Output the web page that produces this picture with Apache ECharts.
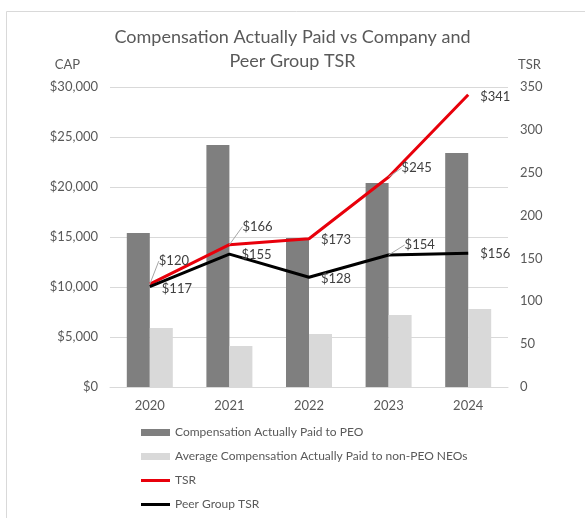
<!DOCTYPE html>
<html>
<head>
<meta charset="utf-8">
<script src="https://cdn.jsdelivr.net/npm/echarts@6/dist/echarts.min.js"></script>
<style>html,body{margin:0;padding:0;background:#fff;}#c{width:585px;height:518px;}</style>
</head>
<body>
<div id="c"></div>
<script>
const categories = ['2020', '2021', '2022', '2023', '2024'];
const peoCap = [15400, 24200, 14900, 20400, 23400];
const neoCap = [5900, 4100, 5300, 7200, 7800];
const tsr = [120, 166, 173, 245, 341];
const peerTsr = [117, 155, 128, 154, 156];
const capTicks = [0, 5000, 10000, 15000, 20000, 25000, 30000];
const tsrTicks = [0, 50, 100, 150, 200, 250, 300, 350];

const FONT = 'Lato';
const TXT = '#595959';

// label placement per point (not data): [dx, dy] of label's left-middle from the point
const tsrLab = [
  {pos: [9, -23], guide: true},
  {pos: [13, -18], guide: true},
  {pos: [12, 1]},
  {pos: [13, -9], guide: true},
  {pos: [12, 2]}
];
const peerLab = [
  {pos: [12, 2]},
  {pos: [12, 1]},
  {pos: [12, 2]},
  {pos: [16, -10], guide: true},
  {pos: [12, 1]}
];

function lineData(vals, labs) {
  return vals.map((v, i) => ({
    value: v,
    label: {position: labs[i].pos, align: 'left', verticalAlign: 'middle'},
    labelLine: {show: !!labs[i].guide}
  }));
}

const LINE_ICON = 'path://M0,0L29,0L29,3L0,3Z';

const chart = echarts.init(document.getElementById('c'));
chart.setOption({
  animation: false,
  backgroundColor: '#fff',
  textStyle: {fontFamily: FONT},
  graphic: [{
    type: 'rect', shape: {x: 6.5, y: 11.5, width: 620, height: 560},
    style: {fill: 'none', stroke: '#d9d9d9', lineWidth: 1}, silent: true, z: -10
  }],
  title: {
    text: 'Compensation Actually Paid vs Company and\nPeer Group TSR',
    left: 'center', top: 20, padding: [5, 5, 5, 17],
    textStyle: {fontFamily: FONT, fontSize: 18, fontWeight: 'normal', color: TXT, lineHeight: 24}
  },
  grid: {left: 110, right: 77, top: 87, bottom: 131},
  legend: {
    orient: 'vertical', left: 141, top: 425, padding: 0,
    itemWidth: 29, itemHeight: 7, itemGap: 9,
    symbolKeepAspect: true,
    textStyle: {fontFamily: FONT, fontSize: 12, color: TXT, lineHeight: 15},
    data: [
      {name: 'Compensation Actually Paid to PEO', icon: 'rect'},
      {name: 'Average Compensation Actually Paid to non-PEO NEOs', icon: 'rect'},
      {name: 'TSR', icon: LINE_ICON},
      {name: 'Peer Group TSR', icon: LINE_ICON}
    ]
  },
  xAxis: {
    type: 'category', data: categories,
    axisLine: {lineStyle: {color: '#d9d9d9'}},
    axisTick: {show: false},
    axisLabel: {fontFamily: FONT, fontSize: 13, color: TXT, margin: 12}
  },
  yAxis: [{
    type: 'value', min: capTicks[0], max: capTicks[capTicks.length - 1], interval: capTicks[1] - capTicks[0],
    name: 'CAP', nameLocation: 'end', nameGap: 16,
    nameTextStyle: {fontFamily: FONT, fontSize: 13, color: TXT, align: 'right', padding: [0, 30, 0, 0]},
    axisLabel: {fontFamily: FONT, fontSize: 13, color: TXT, margin: 12,
      formatter: v => '$' + v.toLocaleString('en-US')},
    splitLine: {lineStyle: {color: '#d9d9d9'}},
    axisLine: {show: false}, axisTick: {show: false}
  }, {
    type: 'value', min: tsrTicks[0], max: tsrTicks[tsrTicks.length - 1], interval: tsrTicks[1] - tsrTicks[0],
    name: 'TSR', nameLocation: 'end', nameGap: 16,
    nameTextStyle: {fontFamily: FONT, fontSize: 13, color: TXT, align: 'left', padding: [0, 0, 0, 10]},
    axisLabel: {fontFamily: FONT, fontSize: 13, color: TXT, margin: 12},
    splitLine: {show: false},
    axisLine: {show: false}, axisTick: {show: false}
  }],
  series: [{
    name: 'Compensation Actually Paid to PEO', type: 'bar', data: peoCap,
    barWidth: 23, barGap: '0%', itemStyle: {color: '#7f7f7f'}, z: 1
  }, {
    name: 'Average Compensation Actually Paid to non-PEO NEOs', type: 'bar', data: neoCap,
    barWidth: 23, barGap: '0%', itemStyle: {color: '#d9d9d9'}, z: 1
  }, {
    name: 'TSR', type: 'line', yAxisIndex: 1, data: lineData(tsr, tsrLab),
    symbol: 'circle', symbolSize: 0.01, showSymbol: true,
    lineStyle: {color: '#e8000b', width: 3}, itemStyle: {color: '#e8000b'},
    label: {show: true, formatter: p => '$' + p.value, fontFamily: FONT, fontSize: 13, color: '#404040'},
    labelLine: {lineStyle: {color: '#a6a6a6', width: 1}},
    z: 3
  }, {
    name: 'Peer Group TSR', type: 'line', yAxisIndex: 1, data: lineData(peerTsr, peerLab),
    symbol: 'circle', symbolSize: 0.01, showSymbol: true,
    lineStyle: {color: '#000000', width: 3}, itemStyle: {color: '#000000'},
    label: {show: true, formatter: p => '$' + p.value, fontFamily: FONT, fontSize: 13, color: '#404040'},
    labelLine: {lineStyle: {color: '#a6a6a6', width: 1}},
    z: 3
  }]
});
</script>
</body>
</html>
